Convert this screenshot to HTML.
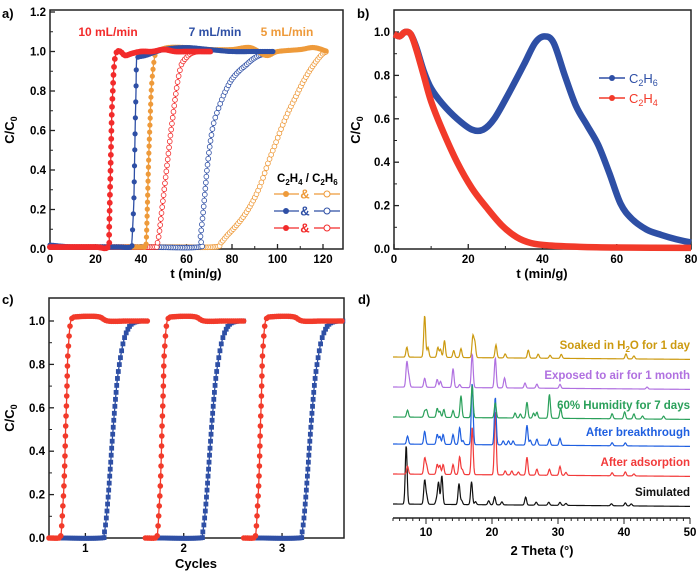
<!DOCTYPE html>
<html><head><meta charset="utf-8">
<style>
html,body{margin:0;padding:0;background:#fff;}
svg{display:block;font-family:"Liberation Sans",Arial,sans-serif;}
text{font-weight:bold;}
</style></head>
<body>
<svg id="fig" width="700" height="577" viewBox="0 0 700 577"></svg>
<script>
// ===== Panel a data =====
const aRedFilled=[[0,0.01],[10,0.01],[20,0.01],[25.5,0.01],[26,0.1],[26.4,0.3],[26.8,0.5],[27.2,0.7],[27.6,0.8],[28,0.9],[28.6,0.97],[29.5,1.0],[31,1.0],[33,0.98],[36,0.99],[40,1.0],[45,1.0],[50,1.01],[55,1.0],[60,1.0],[65,1.0],[71,1.0]];
const aRedOpen=[[0,0.01],[30,0.01],[46,0.01],[47,0.02],[48,0.08],[49,0.18],[50,0.28],[51,0.38],[52,0.48],[53,0.58],[54,0.67],[55,0.76],[56,0.84],[57,0.9],[58,0.94],[60,0.97],[62,0.99],[65,1.0],[68,1.0],[71,1.0]];
const aBlueFilled=[[0,0.02],[10,0.01],[20,0.01],[30,0.01],[35.5,0.01],[36,0.04],[36.3,0.1],[36.6,0.17],[36.9,0.26],[37.2,0.46],[37.5,0.65],[37.8,0.8],[38,0.94],[38.5,0.97],[42,0.98],[50,1.01],[60,1.02],[70,1.01],[80,1.0],[90,1.0],[98,1.0]];
const aBlueOpen=[[0,0.01],[40,0.01],[65.5,0.01],[66,0.05],[67,0.15],[68,0.27],[69,0.4],[70,0.5],[71,0.58],[72,0.64],[74,0.71],[76,0.77],[78,0.82],[80,0.86],[83,0.9],[86,0.93],[89,0.96],[92,0.98],[95,0.99],[98,1.0]];
const aOrgFilled=[[0,0.01],[20,0.01],[40,0.01],[42,0.01],[42.5,0.1],[43,0.3],[43.5,0.5],[44,0.65],[44.5,0.8],[45.2,0.9],[46,0.97],[47,1.0],[52,1.02],[60,1.02],[70,1.01],[80,1.01],[88,1.02],[95,0.98],[100,1.0],[110,1.01],[116,1.02],[122,1.0]];
const aOrgOpen=[[0,0.01],[50,0.01],[72,0.01],[75,0.03],[78,0.07],[82,0.12],[86,0.18],[90,0.26],[93,0.34],[96,0.44],[99,0.53],[102,0.62],[105,0.7],[108,0.77],[111,0.84],[114,0.9],[117,0.95],[120,0.99],[122,1.0]];
const aXTicks=[0,20,40,60,80,100,120];
const aYTicks=[0.0,0.2,0.4,0.6,0.8,1.0,1.2];
// ===== Panel b data =====
const bC2H6=[[0,0.99],[1.5,0.98],[3,1.0],[4.5,0.99],[6,0.93],[8,0.82],[10,0.74],[13,0.67],[17,0.6],[21,0.55],[24,0.55],[27,0.6],[31,0.72],[35,0.85],[38,0.95],[40.5,0.98],[43,0.95],[46,0.8],[49,0.66],[52,0.57],[55,0.48],[58,0.35],[61,0.21],[64,0.14],[68,0.09],[72,0.065],[76,0.045],[80,0.03]];
const bC2H4=[[0,0.99],[1.5,0.98],[3,1.0],[4.5,0.99],[6,0.92],[8,0.8],[10,0.68],[13,0.55],[17,0.4],[21,0.28],[25,0.19],[29,0.11],[33,0.055],[37,0.027],[42,0.016],[50,0.01],[60,0.007],[80,0.005]];
const bXTicks=[0,20,40,60,80];
const bYTicks=[0.0,0.2,0.4,0.6,0.8,1.0];
// ===== Panel c data (x in cycles) =====
const cRed=[[0,0],[0.1,0],[0.12,0.01],[0.13,0.06],[0.14,0.14],[0.15,0.22],[0.16,0.34],[0.17,0.52],[0.175,0.58],[0.18,0.65],[0.185,0.74],[0.19,0.83],[0.2,0.9],[0.21,0.96],[0.23,1.01],[0.3,1.02],[0.5,1.02],[0.6,1.0],[0.8,1.0],[1.0,1.0]];
const cBlue=[[0.1,0],[0.55,0],[0.58,0.02],[0.6,0.08],[0.62,0.18],[0.64,0.3],[0.66,0.43],[0.68,0.55],[0.7,0.66],[0.72,0.75],[0.75,0.84],[0.78,0.91],[0.82,0.96],[0.87,0.99],[0.95,1.0],[1.0,1.0]];
const cCycles=[1,2,3];
const cRedShift=[0,-0.02,-0.02];
const cBlueShift=[-0.02,-0.02,-0.01];
const cYTicks=[0.0,0.2,0.4,0.6,0.8,1.0];
// ===== Panel d data =====
const dNames=["Simulated","After adsorption","After breakthrough","60% Humidity for 7 days","Exposed to air for 1 month","Soaked in H2O for 1 day"];
const dOffsets=[0,30,60,87,117,147];
const dSimPos=[7.0,9.8,10.1,11.6,11.9,12.4,15.0,15.4,16.9,17.5,19.5,20.4,21.5,25.1,26.7,28.6,30.3,31.2,38.1,40.2,41.1];
const dSimH=[59,24,8,5,22,29,21,4,23,3,4,8,3,8,3,3,3,2,2,3,2];
const dAdsPos=[7.2,9.8,10.1,11.7,12.1,12.6,14.1,15.1,15.5,17.0,20.5,22.0,23.0,24.0,25.3,26.8,28.7,30.3,31.2,38.2,40.2,41.5];
const dAdsH=[8,16,8,10,9,10,10,18,5,48,64,4,4,3,18,6,6,9,3,3,4,2];
const dBrkPos=[7.2,9.8,11.7,12.1,12.6,14.1,15.1,15.6,17.0,20.5,21.7,22.5,23.2,25.3,25.8,26.8,28.7,30.3,38.2,40.2];
const dBrkH=[8,13,10,8,10,10,17,4,62,48,4,4,4,20,5,6,6,7,3,3];
const dHumPos=[7.2,9.8,10.1,11.7,12.1,12.7,14.1,15.3,17.0,20.5,23.5,24.3,25.3,26.3,26.8,28.7,30.4,38.2,40.1,41.5,42.8,46.0];
const dHumH=[7,6,7,9,6,8,7,22,32,15,5,4,16,5,6,24,10,5,7,5,3,3];
const dAirPos=[7.1,7.4,9.8,11.7,12.2,14.1,15.1,17.0,20.5,21.9,25.0,26.8,30.3,43.5];
const dAirH=[25,10,9,8,6,19,3,34,30,10,5,4,4,2];
const dSoakPos=[7.1,9.8,10.3,11.8,12.2,12.8,14.2,15.3,17.1,17.4,20.6,22.0,25.5,27.0,28.8,30.5,40.3,41.5];
const dSoakH=[10,42,10,10,8,17,7,9,21,15,13,4,8,4,3,4,5,3];
const dXTicks=[10,20,30,40,50];

const NS="http://www.w3.org/2000/svg";
const svg=document.getElementById('fig');
function el(tag,attrs,parent,txt){const e=document.createElementNS(NS,tag);for(const k in attrs)e.setAttribute(k,attrs[k]);if(txt!==undefined)e.textContent=txt;(parent||svg).appendChild(e);return e;}
function lin(d0,d1,r0,r1){return v=>r0+(v-d0)*(r1-r0)/(d1-d0);}
function smooth(P){let d='M'+P[0][0]+','+P[0][1];
  for(let i=0;i<P.length-1;i++){const p0=P[i-1]||P[i],p1=P[i],p2=P[i+1],p3=P[i+2]||p2;
    const c1=[p1[0]+(p2[0]-p0[0])/6,p1[1]+(p2[1]-p0[1])/6],c2=[p2[0]-(p3[0]-p1[0])/6,p2[1]-(p3[1]-p1[1])/6];
    d+=` C${c1[0].toFixed(2)},${c1[1].toFixed(2)} ${c2[0].toFixed(2)},${c2[1].toFixed(2)} ${p2[0].toFixed(2)},${p2[1].toFixed(2)}`;}
  return d;}

function frame(g,x0,y0,x1,y1,xs,ys,xt,yt,minorX){
  const f=el('rect',{x:x0,y:y0,width:x1-x0,height:y1-y0,fill:'none',stroke:'#222','stroke-width':1.5},g);
  
  if(xt){xt.forEach(v=>{const x=xs(v);el('line',{x1:x,y1:y1,x2:x,y2:y1-5,stroke:'#222','stroke-width':1.3},g);
    const t=el('text',{x:x,y:y1+14,'text-anchor':'middle','font-size':11.5},g,String(v));
    });
    if(minorX)for(let i=0;i<xt.length;i++){const x=xs(xt[i]+(xt[1]-xt[0])/2);if(x<x1)el('line',{x1:x,y1:y1,x2:x,y2:y1-3,stroke:'#222','stroke-width':1},g);}}
  yt.forEach(v=>{const y=ys(v);el('line',{x1:x0,y1:y,x2:x0+5,y2:y,stroke:'#222','stroke-width':1.3},g);
    const t=el('text',{x:x0-4,y:y+4,'text-anchor':'end','font-size':11.5},g,v.toFixed(1));
    });
  for(let i=0;i<yt.length-1;i++){const y=ys((yt[i]+yt[i+1])/2);el('line',{x1:x0,y1:y,x2:x0+3,y2:y,stroke:'#222','stroke-width':1},g);}
}
function ctitle(g,x,y,rot){const t=el('text',{x:0,y:0,'font-size':13,'text-anchor':'middle',transform:`translate(${x},${y}) rotate(${rot})`},g);
  t.textContent='C/C';el('tspan',{'font-size':9,dy:3},t,'0');}
// markers placed when horizontal advance >= dxm OR arc advance >= dsm
function series(g,data,xs,ys,color,open,r,name,lw,dxm,dsm,square){
  const gg=el('g',{},g);
  const P=data.map(p=>[xs(p[0]),ys(p[1])]);
  const path=el('path',{d:smooth(P),fill:'none',stroke:color,'stroke-width':lw||1.3,'stroke-linejoin':'round'},gg);
  if(!dxm)return;
  const L=path.getTotalLength();let lx=-1e9,ls=-1e9;
  for(let s=0;s<=L;s+=0.25){const q=path.getPointAtLength(s);
    if(Math.abs(q.x-lx)>=dxm||s-ls>=dsm){lx=q.x;ls=s;
      if(square)el('rect',{x:(q.x-r).toFixed(2),y:(q.y-r).toFixed(2),width:2*r,height:2*r,fill:color},gg);
      else el('circle',{cx:q.x.toFixed(2),cy:q.y.toFixed(2),r:r,fill:open?'#fff':color,stroke:color,'stroke-width':open?0.8:0},gg);}}
}

// ----- Panel a -----
{
const g=el('g',{});
const xs=lin(0,120,50,323), ys=lin(0,1.2,249,12);
const lab=el('text',{x:2,y:18,'font-size':13},g,'a)');
frame(g,50,10,343,249,xs,ys,aXTicks,aYTicks,true);
ctitle(g,14,130,-90);
const xt=el('text',{x:196,y:278,'text-anchor':'middle','font-size':13},g,'t (min/g)');
const O='#ee9a3a',B='#2e4fa5',R='#f22b2b';
series(g,aOrgOpen,xs,ys,O,true,2.4,'series-5-c2h6',1,1.6,6);
series(g,aBlueOpen,xs,ys,B,true,2.4,'series-7-c2h6',1,1.6,6);
series(g,aRedOpen,xs,ys,R,true,2.4,'series-10-c2h6',1,1.6,6);
series(g,aOrgFilled,xs,ys,O,false,2.6,'series-5-c2h4',1.3,1.6,7);
series(g,aBlueFilled,xs,ys,B,false,2.6,'series-7-c2h4',1.3,1.6,16);
series(g,aRedFilled,xs,ys,R,false,2.9,'series-10-c2h4',1.3,1.6,8);
[['10 mL/min',R,108],['7 mL/min',B,215],['5 mL/min',O,287]].forEach(a=>{const t=el('text',{x:a[2],y:36,'text-anchor':'middle','font-size':12,fill:a[1]},g,a[0]);});
const lt=el('text',{x:277,y:182,'font-size':11.5},g);lt.innerHTML='C<tspan font-size="8" dy="3">2</tspan><tspan dy="-3">H</tspan><tspan font-size="8" dy="3">4</tspan><tspan dy="-3"> / C</tspan><tspan font-size="8" dy="3">2</tspan><tspan dy="-3">H</tspan><tspan font-size="8" dy="3">6</tspan>';

[[O,194],[B,211],[R,228]].forEach(r=>{const lg=el('g',{},g);
 el('line',{x1:274,y1:r[1],x2:299,y2:r[1],stroke:r[0],'stroke-width':1.3},lg);el('circle',{cx:286,cy:r[1],r:3,fill:r[0]},lg);
 el('text',{x:305,y:r[1]+4.5,'font-size':13,fill:r[0],'text-anchor':'middle'},lg,'&');
 el('line',{x1:314,y1:r[1],x2:340,y2:r[1],stroke:r[0],'stroke-width':1.3},lg);el('circle',{cx:327,cy:r[1],r:3,fill:'#fff',stroke:r[0],'stroke-width':1},lg);});
}
// ----- Panel b -----
{
const g=el('g',{});
const xs=lin(0,80,394,691), ys=lin(0,1.0,249,32);
const lab=el('text',{x:357,y:18,'font-size':13},g,'b)');
frame(g,394,10,691,249,xs,ys,bXTicks,bYTicks,true);
ctitle(g,360,130,-90);
const xt=el('text',{x:542,y:278,'text-anchor':'middle','font-size':13},g,'t (min/g)');
const B='#2e4fa5',R='#f23a2a';
series(g,bC2H6,xs,ys,B,false,0,'series-c2h6',6.5,0);
series(g,bC2H4,xs,ys,R,false,0,'series-c2h4',6.5,0);
[[B,78,'6'],[R,98,'4']].forEach(r=>{const lg=el('g',{},g);
 el('line',{x1:599,y1:r[1],x2:625,y2:r[1],stroke:r[0],'stroke-width':1.5},lg);el('circle',{cx:612,cy:r[1],r:3,fill:r[0]},lg);
 const t=el('text',{x:629,y:r[1]+5,'font-size':13,fill:r[0]},lg);t.style.fontWeight='normal';
 t.innerHTML='C<tspan font-size="9" dy="3">2</tspan><tspan dy="-3">H</tspan><tspan font-size="9" dy="3">'+r[2]+'</tspan>';});
}
// ----- Panel c -----
{
const g=el('g',{});
const xs=lin(0,3,49,344), ys=lin(0,1.0,538,321);
const lab=el('text',{x:2,y:304,'font-size':13},g,'c)');
frame(g,49,298,344,538,xs,ys,null,cYTicks,false);
ctitle(g,14,418,-90);
cCycles.forEach((c,i)=>{const x=xs(i+0.37);el('line',{x1:x,y1:538,x2:x,y2:533,stroke:'#222','stroke-width':1.3},g);
 const t=el('text',{x:x,y:552,'text-anchor':'middle','font-size':11.5},g,String(c));
 const sx=v=>xs(i+v);
 series(g,cBlue.map(p=>[p[0]+cBlueShift[i],p[1]]),sx,ys,'#2e4fa5',false,2.4,'series-c2h6-cycle-'+c,1.3,1.6,7,true);
 series(g,cRed.map(p=>[p[0]+cRedShift[i],p[1]]),sx,ys,'#f23a2a',false,2.8,'series-c2h4-cycle-'+c,1.3,1.8,10);});
const xt=el('text',{x:196,y:568,'text-anchor':'middle','font-size':13},g,'Cycles');
}
// ----- Panel d -----
{
const g=el('g',{});
const xs=lin(5,50,393,690);
const lab=el('text',{x:358,y:304,'font-size':13},g,'d)');
el('line',{x1:393,y1:518,x2:690,y2:518,stroke:'#222','stroke-width':1.5},g);
for(let v=5;v<=50;v++){const x=xs(v);el('line',{x1:x,y1:518,x2:x,y2:v%10==0?524:521,stroke:'#222','stroke-width':1},g);}
dXTicks.forEach(v=>{const t=el('text',{x:xs(v),y:536,'text-anchor':'middle','font-size':11.5},g,String(v));});
const xt=el('text',{x:542,y:555,'text-anchor':'middle','font-size':13},g,'2 Theta (°)');
const cols=['#111','#f23a3a','#1f5fe0','#2aa05a','#b070e0','#cc9a10'];
const pos=[dSimPos,dAdsPos,dBrkPos,dHumPos,dAirPos,dSoakPos];
const hts=[dSimH,dAdsH,dBrkH,dHumH,dAirH,dSoakH];
const base0=504;
dNames.forEach((nm,i)=>{
 const pts=[];
 for(let x=393;x<=690;x+=0.5){const th=5+(x-393)*45/297;let y=base0-dOffsets[i]+(x-393)*0.008;
  pos[i].forEach((p,k)=>{const w=0.14;y-=hts[i][k]*Math.exp(-((th-p)*(th-p))/(2*w*w));});
  pts.push(x+','+y.toFixed(2));}
 const pl=el('polyline',{points:pts.join(' '),fill:'none',stroke:cols[i],'stroke-width':1.2},g);
 
 const t=el('text',{x:690,y:base0-dOffsets[i]-8,'text-anchor':'end','font-size':11.5,fill:cols[i]},g);
 if(nm.indexOf('H2O')>=0)t.innerHTML='Soaked in H<tspan font-size="8" dy="3">2</tspan><tspan dy="-3">O for 1 day</tspan>';else t.textContent=nm;
 
});
}
</script>
</body></html>
